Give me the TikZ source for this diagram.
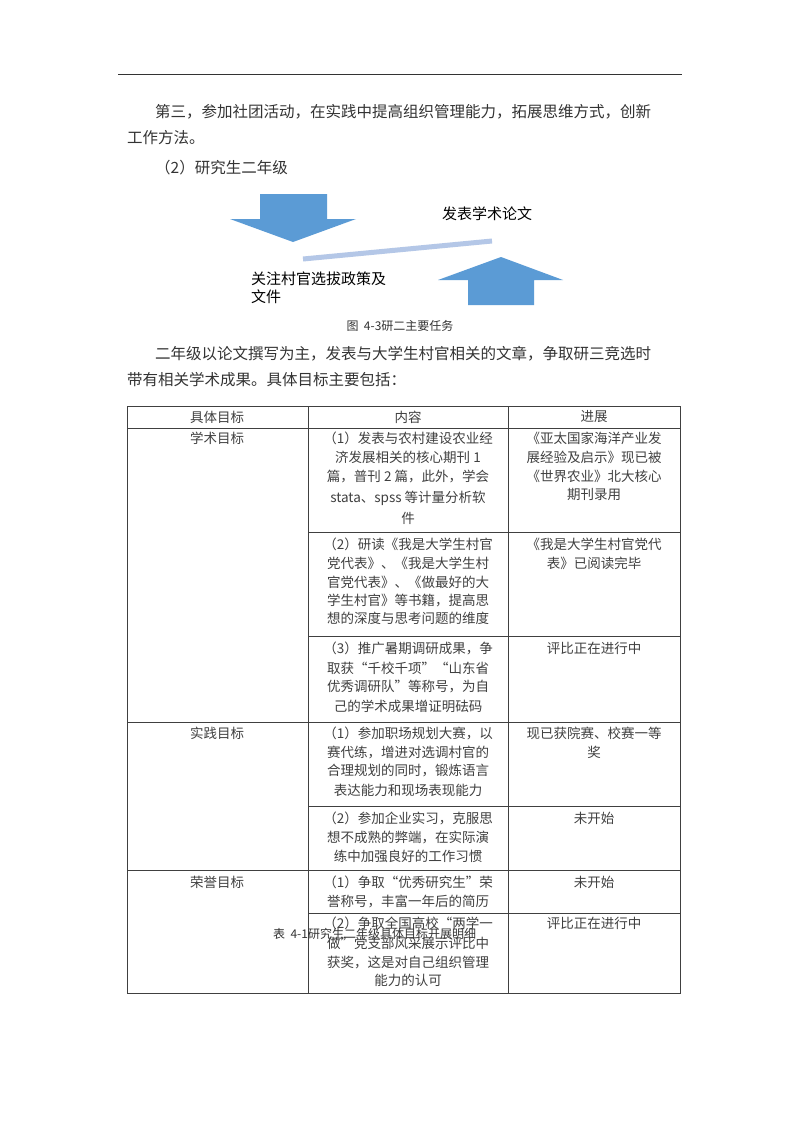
\documentclass[tikz,border=0pt]{standalone}
\usepackage{fontspec}
\setmainfont{Noto Sans CJK SC}
\definecolor{arrblue}{RGB}{91,155,213}
\definecolor{lineblue}{RGB}{180,199,231}
\begin{document}
\begin{tikzpicture}[x=1pt,y=-1pt,
  body/.style={anchor=west,inner sep=0,font=\fontsize{15.5}{18}\selectfont,text=black!80},
  cell/.style={inner sep=0,font=\fontsize{13.5}{16}\selectfont,text=black!75},
  captext/.style={inner sep=0,font=\fontsize{12}{14}\selectfont,text=black!80},
  grid/.style={draw=black!75,line width=0.9pt}]
\useasboundingbox (0,0) rectangle (800,1132);
\fill[white] (0,0) rectangle (800,1132);
\draw[black!80,line width=1pt] (118,74) -- (682,74);
\node[body] (p1) at (155,112) {第三，参加社团活动，在实践中提高组织管理能力，拓展思维方式，创新};
\node[body] (p2) at (127,138) {工作方法。};
\node[body] (p3) at (155,168) {（2）研究生二年级};
% diagram
\fill[arrblue] (260,194) -- (327,194) -- (327,219) -- (356,219) -- (293,242) -- (230,219) -- (260,219) -- cycle;
\fill[arrblue] (468,305) -- (534,305) -- (534,280) -- (563,280) -- (501,257) -- (438,280) -- (468,280) -- cycle;
\coordinate (la) at (303,259); \coordinate (lb) at (492,241);
\draw[lineblue,line width=5pt] (la) -- (lb);
\node[anchor=west,inner sep=0,font=\fontsize{15}{18}\selectfont] (t1) at (442,214) {发表学术论文};
\node[anchor=west,inner sep=0,font=\fontsize{15}{18}\selectfont] (t2) at (251,279) {关注村官选拔政策及};
\node[anchor=west,inner sep=0,font=\fontsize{15}{18}\selectfont] (t3) at (251,297) {文件};
\node[captext] (c1) at (400,326) {图\ \ 4-3研二主要任务};
\node[body] (p4) at (155,354) {二年级以论文撰写为主，发表与大学生村官相关的文章，争取研三竞选时};
\node[body] (p5) at (127,380) {带有相关学术成果。具体目标主要包括：};
% table
\draw[grid] (127,406) rectangle (680,993);
\draw[grid] (308,406) -- (308,993);
\draw[grid] (508,406) -- (508,993);
\draw[grid] (127,428) -- (680,428);
\draw[grid] (308,532) -- (680,532);
\draw[grid] (308,636) -- (680,636);
\draw[grid] (127,722) -- (680,722);
\draw[grid] (308,806) -- (680,806);
\draw[grid] (127,870) -- (680,870);
\draw[grid] (308,913) -- (680,913);
\node[cell] (h1) at (217,417) {具体目标};
\node[cell] (h2) at (408,417) {内容};
\node[cell] (h3) at (594,417) {进展};
\node[cell] (g1) at (217,438) {学术目标};
\node[cell] (g2) at (217,733) {实践目标};
\node[cell] (g3) at (217,882) {荣誉目标};
\foreach \t/\y in {（1）发表与农村建设农业经/438,济发展相关的核心期刊 1/457,篇，普刊 2 篇，此外，学会/476,stata、spss 等计量分析软/498,件/518,
 （2）研读《我是大学生村官/544,党代表》、《我是大学生村/563,官党代表》、《做最好的大/582,学生村官》等书籍，提高思/600,想的深度与思考问题的维度/618,
 （3）推广暑期调研成果，争/648,取获“千校千项”“山东省/668,优秀调研队”等称号，为自/687,己的学术成果增证明砝码/706,
 （1）参加职场规划大赛，以/733,赛代练，增进对选调村官的/752,合理规划的同时，锻炼语言/771,表达能力和现场表现能力/790,
 （2）参加企业实习，克服思/818,想不成熟的弊端，在实际演/837,练中加强良好的工作习惯/856,
 （1）争取“优秀研究生”荣/882,誉称号，丰富一年后的简历/901,
 （2）争取全国高校“两学一/923,做”党支部风采展示评比中/943,获奖，这是对自己组织管理/962,能力的认可/980}
  \node[cell] at (408,\y) {\t};
\foreach \t/\y in {《亚太国家海洋产业发/438,展经验及启示》现已被/457,《世界农业》北大核心/476,期刊录用/494,
 《我是大学生村官党代/544,表》已阅读完毕/563,
 评比正在进行中/648,
 现已获院赛、校赛一等/733,奖/752,
 未开始/818,未开始/882,评比正在进行中/923}
  \node[cell] at (594,\y) {\t};
\node[captext,anchor=west] (c2) at (273,934) {表\ \ 4-1研究生二年级具体目标开展明细};
\end{tikzpicture}
\end{document}
